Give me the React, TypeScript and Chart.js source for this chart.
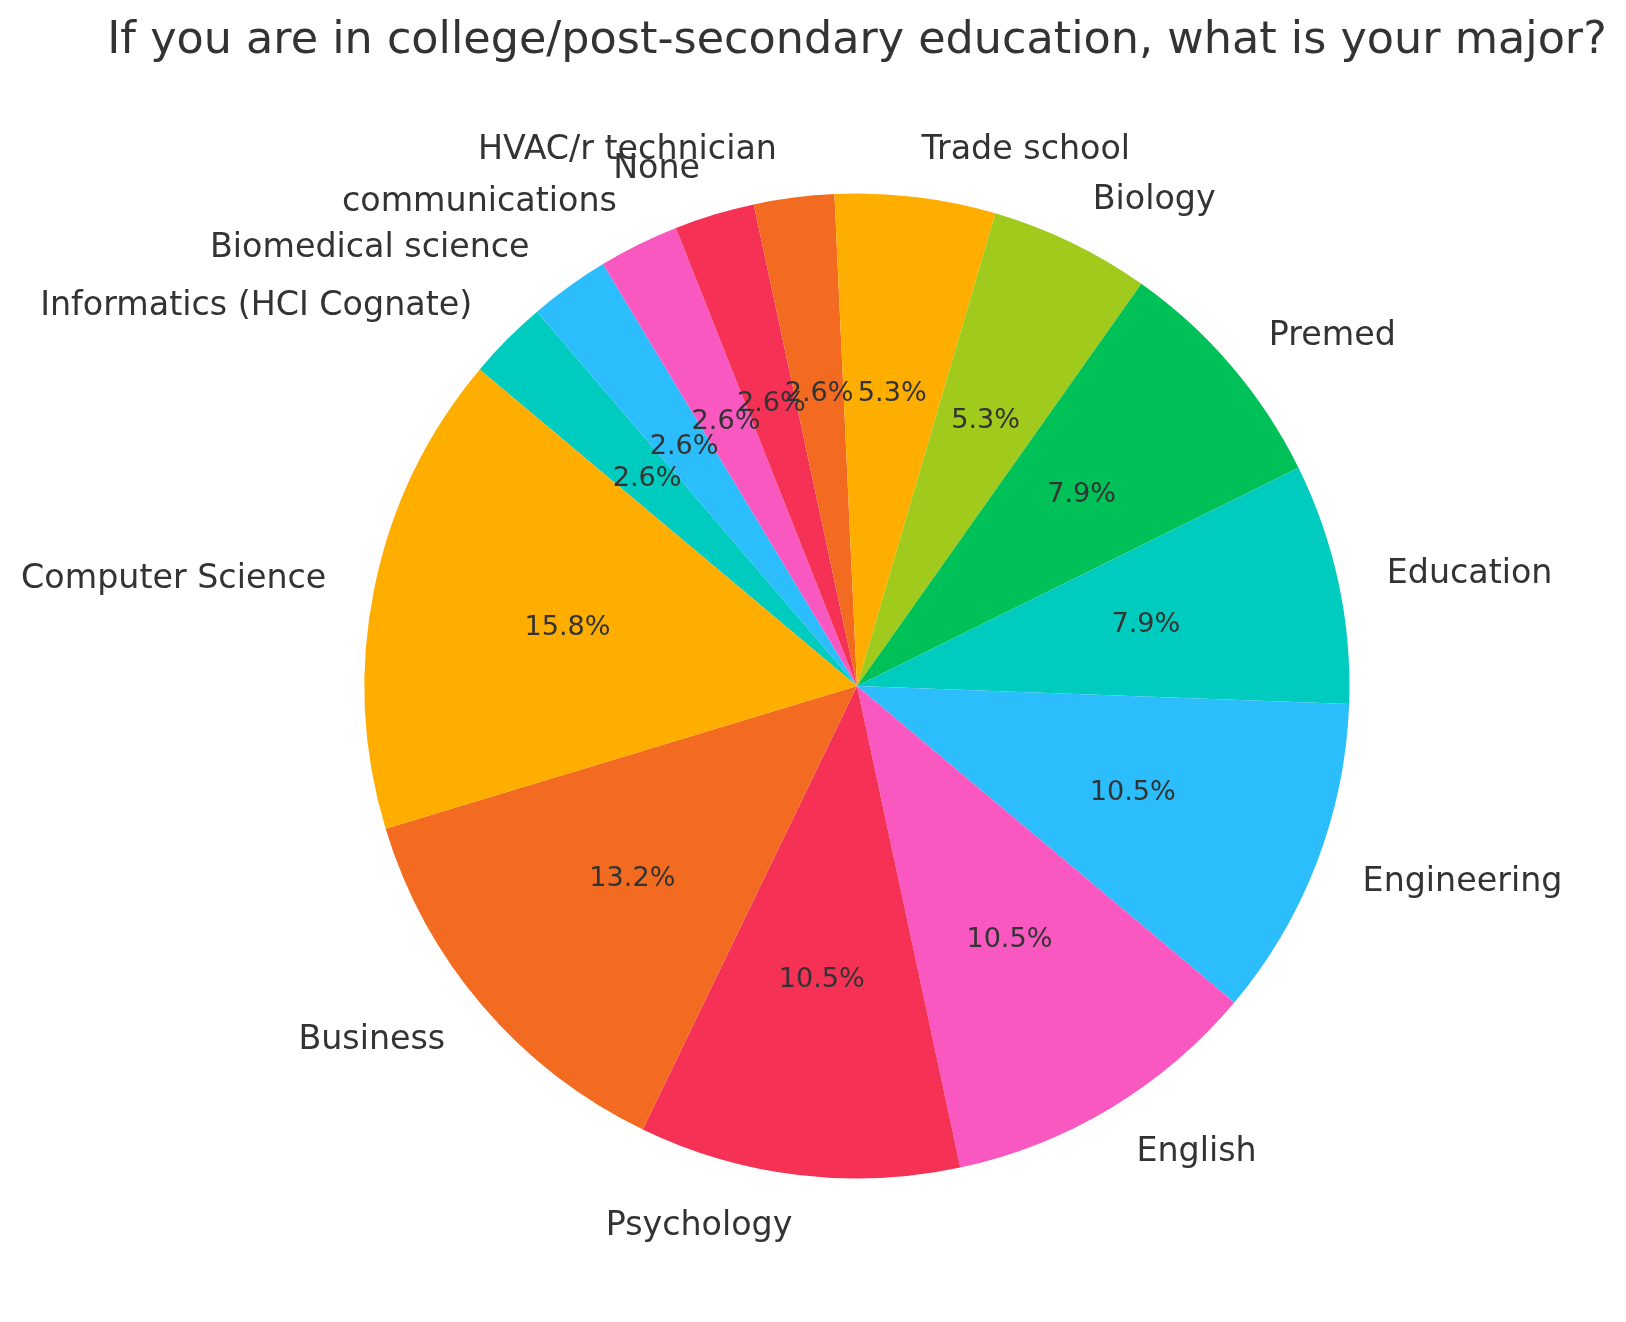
import React, { useEffect, useRef } from "react";
import { Chart, registerables } from "chart.js";

Chart.register(...registerables);

const TITLE = "If you are in college/post-secondary education, what is your major?";
const majors = [
  "Computer Science",
  "Business",
  "Psychology",
  "English",
  "Engineering",
  "Education",
  "Premed",
  "Biology",
  "Trade school",
  "HVAC/r technician ",
  "None",
  "communications",
  "Biomedical science ",
  "Informatics (HCI Cognate)",
];
const counts = [6, 5, 4, 4, 4, 3, 3, 2, 2, 1, 1, 1, 1, 1];
const palette = ["#FFAE00", "#F26B21", "#F53255", "#F858C0", "#2BBDFC", "#00CBBF", "#00C157", "#A0CA1C"];

const FONT = "'DejaVu Sans', sans-serif";
const TEXT_COLOR = "#333333";

export default function App() {
  const ref = useRef<HTMLCanvasElement | null>(null);

  useEffect(() => {
    const canvas = ref.current;
    if (!canvas) return;
    const n = majors.length;
    const total = counts.reduce((a, b) => a + b, 0);
    const colors = majors.map((_, i) => palette[i % palette.length]);
    // Chart.js draws clockwise; reverse to mimic counter-clockwise order
    const revLabels = [...majors].reverse();
    const revCounts = [...counts].reverse();
    const revColors = [...colors].reverse();

    const labelPlugin = {
      id: "pieLabels",
      afterDraw(chart: any) {
        const ctx = chart.ctx as CanvasRenderingContext2D;
        ctx.save();
        // title
        ctx.fillStyle = TEXT_COLOR;
        ctx.font = `44.5px ${FONT}`;
        ctx.textAlign = "center";
        ctx.textBaseline = "middle";
        ctx.fillText(TITLE, 857, 41);

        const meta = chart.getDatasetMeta(0);
        for (let i = 0; i < n; i++) {
          const arc = meta.data[n - 1 - i];
          const p = arc.getProps(["x", "y", "startAngle", "endAngle", "outerRadius"], true);
          const mid = (p.startAngle + p.endAngle) / 2;
          const c = Math.cos(mid);
          const s = Math.sin(mid);
          // category label
          ctx.font = `33.3px ${FONT}`;
          ctx.textAlign = c > 0 ? "left" : "right";
          ctx.textBaseline = "middle";
          ctx.fillText(majors[i], p.x + c * p.outerRadius * 1.1, p.y + s * p.outerRadius * 1.1 + 2);
          // percent label
          ctx.font = `27.1px ${FONT}`;
          ctx.textAlign = "center";
          const pct = ((counts[i] / total) * 100).toFixed(1) + "%";
          ctx.fillText(pct, p.x + c * p.outerRadius * 0.6, p.y + s * p.outerRadius * 0.6 + 1);
        }
        ctx.restore();
      },
    };

    const chart = new Chart(canvas, {
      type: "pie",
      data: {
        labels: revLabels,
        datasets: [
          {
            data: revCounts,
            backgroundColor: revColors,
            borderWidth: 0,
          },
        ],
      },
      options: {
        responsive: false,
        animation: false,
        devicePixelRatio: 1,
        rotation: -50,
        layout: { padding: { left: 364.5, right: 276.5, top: 193.5, bottom: 143.5 } },
        plugins: {
          legend: { display: false },
          tooltip: { enabled: false },
          title: { display: false },
        },
      },
      plugins: [labelPlugin],
    });
    return () => chart.destroy();
  }, []);

  return (
    <div style={{ position: "fixed", left: 0, top: 0, width: 1626, height: 1322, background: "#ffffff" }}>
      <canvas ref={ref} width={1626} height={1322} style={{ display: "block", width: 1626, height: 1322 }} />
    </div>
  );
}
